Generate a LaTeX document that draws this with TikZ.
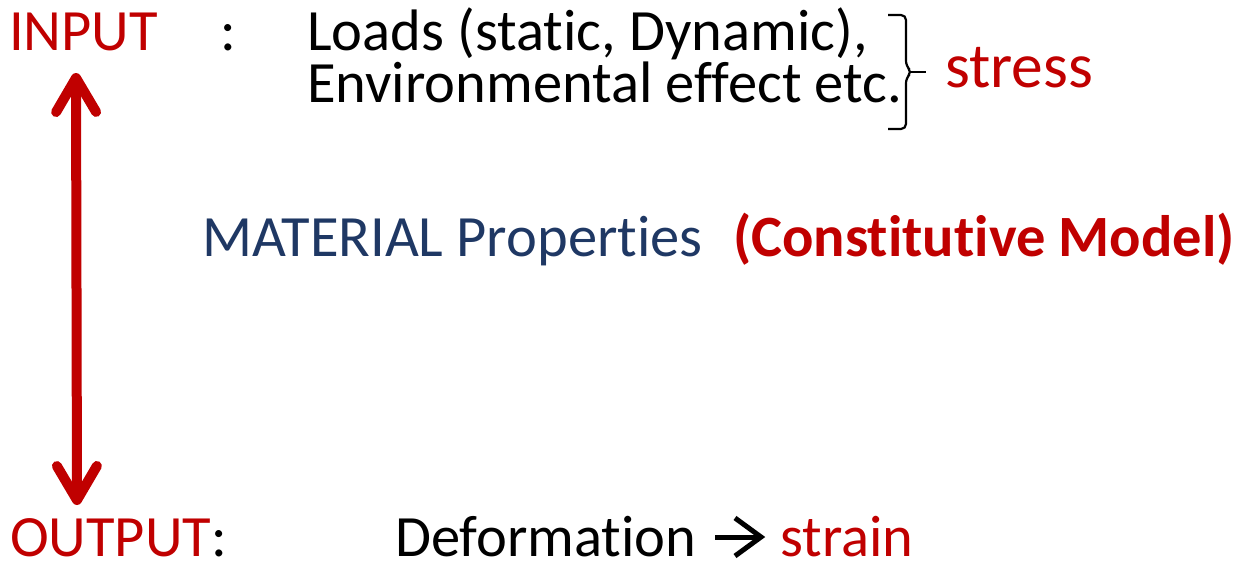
\documentclass[tikz,border=0pt]{standalone}
\usepackage{fontspec}
\setmainfont{Carlito}[Ligatures=CommonOff]
\usetikzlibrary{arrows.meta}
\definecolor{darkred}{HTML}{C00000}
\definecolor{navy}{HTML}{1F3864}
\tikzset{
  txt/.style={anchor=base west, inner sep=0pt, text depth=0pt, font=\fontsize{58.5}{70}\selectfont},
  redtxt/.style={txt, text=darkred},
  bluetxt/.style={txt, text=navy},
  flow/.style={draw=darkred, line width=10pt,
    {Straight Barb[round, length=34pt, width=40pt]}-{Straight Barb[round, length=34pt, width=40pt]}},
  implies/.style={draw, line width=5pt, miter limit=10},
}
\begin{document}
\begin{tikzpicture}[x=1pt, y=-1pt]
  \useasboundingbox (0,0) rectangle (1238,562);

  % input line
  \node[redtxt] (input) at (9,50) {INPUT};
  \node[txt] (colon1) at (220,50) {:};
  \node[txt] (loads) at (307,50) {Loads (static, Dynamic),};
  \node[txt] (env) at (307,102) {Environmental effect etc.};
  % right brace grouping the two input lines
  \draw[line width=2.2pt, rounded corners=5pt]
    (888,15) -- (906,15) -- (906,66) -- (912,72) -- (906,78) -- (906,129) -- (888,129);
  \coordinate (bracetip) at (911,72);
  \coordinate (braceend) at (926,72);
  \draw[line width=2.2pt] (bracetip) -- (braceend);
  \node[redtxt, font=\fontsize{63.5}{76}\selectfont] (stress) at (945,87) {stress};

  % material line
  \node[bluetxt] (mat) at (202,256) {MATERIAL Properties};
  \node[redtxt, font=\fontsize{58.5}{70}\selectfont\bfseries] (model) at (733,256) {(Constitutive Model)};

  % output line
  \node[redtxt] (output) at (10,556) {OUTPUT};
  \node[txt, anchor=base west] (colon2) at (output.base east) {:};
  \node[txt] (deform) at (395,556) {Deformation};
  \node[redtxt] (strain) at (780,556) {strain};
  % "implies" arrow between deformation and strain
  \coordinate (ar1) at (715,537);
  \coordinate (ar2) at (761,537);
  \draw[implies] (ar1) -- (ar2);
  \draw[implies] ([shift={(-26,-19)}]ar2) -- (ar2) -- ([shift={(-26,19)}]ar2);

  % double arrow between input and output
  \coordinate (top) at (76,73);
  \coordinate (bot) at (77,505);
  \draw[flow] (top) -- (bot);
\end{tikzpicture}
\end{document}
